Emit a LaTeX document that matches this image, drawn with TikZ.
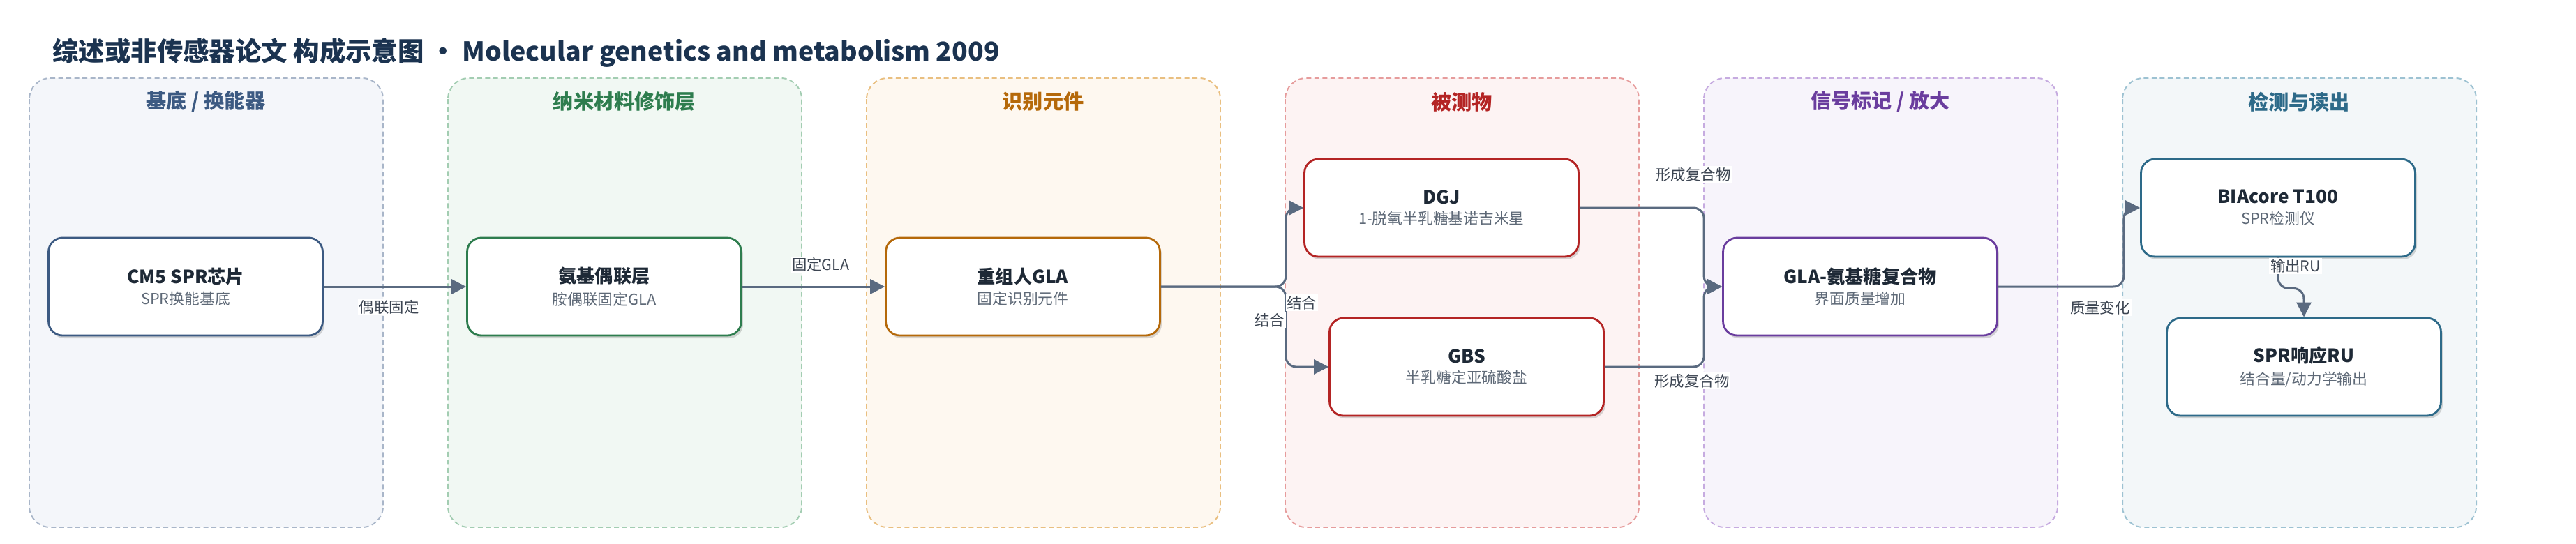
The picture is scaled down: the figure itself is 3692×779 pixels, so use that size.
\documentclass[tikz,border=0pt]{standalone}
\usepackage{fontspec}
\setmainfont{Noto Sans CJK SC}
\usetikzlibrary{calc,arrows.meta,shadows}

\definecolor{edgecol}{HTML}{5A6A80}
\definecolor{lblcol}{HTML}{3C4552}
\definecolor{subcol}{HTML}{5E6977}
\definecolor{headcol}{HTML}{1E2936}
\definecolor{titlecol}{HTML}{1B3350}
\definecolor{subfill}{HTML}{F4F6FA}\definecolor{subline}{HTML}{A9B6C9}\definecolor{subdark}{HTML}{3C5A82}
\definecolor{nanofill}{HTML}{F1F8F3}\definecolor{nanoline}{HTML}{A3CDB2}\definecolor{nanodark}{HTML}{2E7D4E}
\definecolor{recfill}{HTML}{FEF8F0}\definecolor{recline}{HTML}{E9BF80}\definecolor{recdark}{HTML}{B5690A}
\definecolor{anafill}{HTML}{FDF3F3}\definecolor{analine}{HTML}{E69C9C}\definecolor{anadark}{HTML}{B42424}
\definecolor{sigfill}{HTML}{F7F4FB}\definecolor{sigline}{HTML}{C6ABE0}\definecolor{sigdark}{HTML}{6A3D9E}
\definecolor{detfill}{HTML}{F3F7F9}\definecolor{detline}{HTML}{9DC2D2}\definecolor{detdark}{HTML}{2D6A89}

\newcommand{\boxtext}[2]{{\fontsize{14.9}{17}\selectfont\bfseries\color{headcol}#1}\\[5pt]{\fontsize{12.4}{15}\selectfont\color{subcol}#2}}

\begin{document}
\begin{tikzpicture}[x=0.02cm, y=-0.02cm,
  panel/.style={draw=#1line, fill=#1fill, line width=1.1pt, dash pattern=on 0.14cm off 0.09cm, rounded corners=0.6cm},
  paneltitle/.style={text=#1dark, inner sep=0pt, font=\fontsize{16.6}{19}\selectfont\bfseries},
  box/.style={draw=#1dark, fill=white, line width=1.6pt, rounded corners=0.4cm,
    minimum width=7.86cm, minimum height=2.8cm, align=center,
    drop shadow={shadow xshift=0.05cm, shadow yshift=-0.08cm, opacity=0.15, fill=black}},
  flow/.style={draw=edgecol, line width=1.7pt, rounded corners=0.3cm, -{Triangle[length=0.42cm,width=0.42cm]}},
  lbl/.style={fill=white, inner sep=1pt, text=lblcol, font=\fontsize{12.2}{14}\selectfont}]
\useasboundingbox (0,0) rectangle (3692,779);

\node[anchor=west, inner sep=0pt, text=titlecol, font=\fontsize{21.3}{25}\selectfont\bfseries] (title) at (75,76)
  {综述或非传感器论文 构成示意图 • Molecular genetics and metabolism 2009};

% lanes
\draw[panel=sub] (42,112) rectangle (549,756);
\draw[panel=nano] (642,112) rectangle (1149,756);
\draw[panel=rec] (1242,112) rectangle (1749,756);
\draw[panel=ana] (1842,112) rectangle (2349,756);
\draw[panel=sig] (2442,112) rectangle (2949,756);
\draw[panel=det] (3042,112) rectangle (3549,756);

\node[paneltitle=sub] (subhead) at (295,146) {基底 / 换能器};
\node[paneltitle=nano] (nanohead) at (895,146) {纳米材料修饰层};
\node[paneltitle=rec] (rechead) at (1495,146) {识别元件};
\node[paneltitle=ana] (anahead) at (2095,146) {被测物};
\node[paneltitle=sig] (sighead) at (2695,146) {信号标记 / 放大};
\node[paneltitle=det] (dethead) at (3295,146) {检测与读出};

\coordinate (chipc) at (266,411);
\coordinate (aminoc) at ($(chipc) + (600,0)$);
\coordinate (glac) at ($(aminoc) + (600,0)$);
\coordinate (dgjc) at ($(glac) + (600,-113)$);
\coordinate (gbsc) at ($(glac) + (636,115)$);
\coordinate (cplxc) at ($(glac) + (1200,0)$);
\coordinate (biac) at ($(cplxc) + (599,-113)$);
\coordinate (ruc) at ($(cplxc) + (636,115)$);

\node[box=sub] (chip) at (chipc) {\boxtext{CM5 SPR芯片}{SPR换能基底}};
\node[box=nano] (amino) at (aminoc) {\boxtext{氨基偶联层}{胺偶联固定GLA}};
\node[box=rec] (gla) at (glac) {\boxtext{重组人GLA}{固定识别元件}};
\node[box=ana] (dgj) at (dgjc) {\boxtext{DGJ}{1-脱氧半乳糖基诺吉米星}};
\node[box=ana] (gbs) at (gbsc) {\boxtext{GBS}{半乳糖定亚硫酸盐}};
\node[box=sig] (cplx) at (cplxc) {\boxtext{GLA-氨基糖复合物}{界面质量增加}};
\node[box=det] (bia) at (biac) {\boxtext{BIAcore T100}{SPR检测仪}};
\node[box=det] (ru) at (ruc) {\boxtext{SPR响应RU}{结合量/动力学输出}};

\coordinate (fork) at ($(gla.east) + (179,0)$);
\coordinate (join) at ($(cplx.west) + (-26,0)$);
\coordinate (turn) at ($(cplx.east) + (180,0)$);

\draw[flow] (chip) -- (amino);
\draw[flow] (amino) -- (gla);
\draw[flow] (gla.east) -- (fork) |- (dgj.west);
\draw[flow] (gla.east) -- (fork) |- (gbs.west);
\draw[flow] (dgj.east) -| (join) -- (cplx.west);
\draw[flow] (gbs.east) -| (join) -- (cplx.west);
\draw[flow] (cplx.east) -- (turn) |- (bia.west);
\draw[flow] (bia.south) -- ++(0,44) -| (ru.north);

\node[lbl] (couple) at ($(chip.east)!0.46!(amino.west)$) [yshift=-0.59cm] {偶联固定};
\node[lbl] (fix) at ($(amino.east)!0.55!(gla.west)$) [yshift=0.63cm] {固定GLA};
\node[lbl] (bind1) at (fork) [xshift=0.46cm, yshift=-0.46cm] {结合};
\node[lbl] (bind2) at (fork) [xshift=-0.46cm, yshift=-0.96cm] {结合};
\node[lbl] (form1) at ($(dgj.east) + (163,-48)$) {形成复合物};
\node[lbl] (form2) at ($(gbs.east) + (125,20)$) {形成复合物};
\node[lbl] (mass) at ($(cplx.east) + (146,30)$) {质量变化};
\node[lbl] (out) at ($(bia.south) + (25,12)$) {输出RU};

\end{tikzpicture}
\end{document}
